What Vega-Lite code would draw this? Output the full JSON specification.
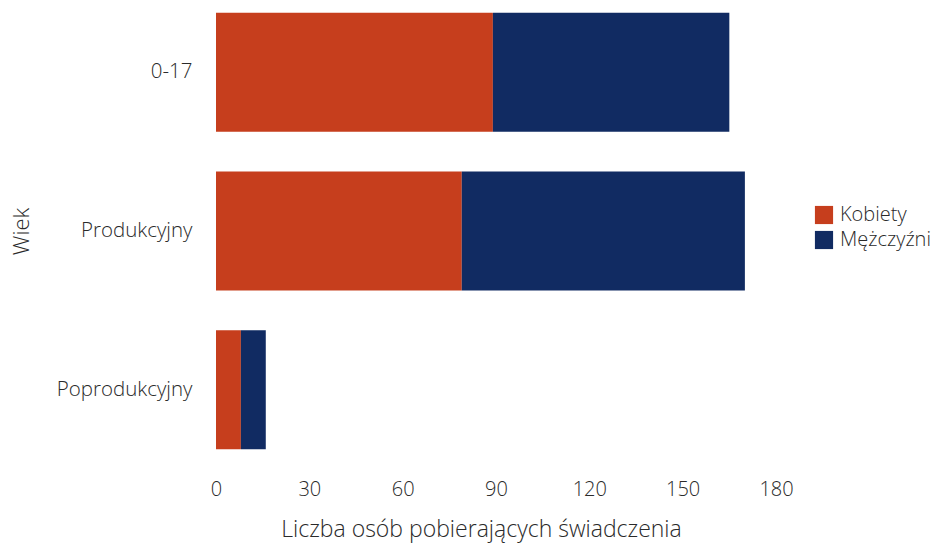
{
  "$schema": "https://vega.github.io/schema/vega-lite/v6.json",
  "autosize": "none",
  "width": 560,
  "height": 462,
  "padding": {"left": 216, "top": 0, "right": 168, "bottom": 82},
  "background": "white",
  "data": {
    "values": [
      {"wiek": "0-17", "plec": "Kobiety", "liczba": 89, "k": 0},
      {"wiek": "0-17", "plec": "Mężczyźni", "liczba": 76, "k": 1},
      {"wiek": "Produkcyjny", "plec": "Kobiety", "liczba": 79, "k": 0},
      {"wiek": "Produkcyjny", "plec": "Mężczyźni", "liczba": 91, "k": 1},
      {"wiek": "Poprodukcyjny", "plec": "Kobiety", "liczba": 8, "k": 0},
      {"wiek": "Poprodukcyjny", "plec": "Mężczyźni", "liczba": 8, "k": 1}
    ]
  },
  "mark": {"type": "bar"},
  "encoding": {
    "y": {
      "field": "wiek",
      "type": "nominal",
      "sort": ["0-17", "Produkcyjny", "Poprodukcyjny"],
      "scale": {"paddingInner": 0.25, "paddingOuter": 0.08},
      "axis": {
        "title": "Wiek",
        "domain": false,
        "ticks": false,
        "labelPadding": 24,
        "labelFont": "Open Sans",
        "labelFontSize": 20.5,
        "labelFontWeight": 300,
        "labelColor": "#2a2a2a",
        "titleFont": "Open Sans",
        "titleFontSize": 22,
        "titleFontWeight": 300,
        "titleColor": "#2a2a2a",
        "titlePadding": 23
      }
    },
    "x": {
      "field": "liczba",
      "type": "quantitative",
      "stack": "zero",
      "scale": {"domain": [0, 180], "nice": false},
      "axis": {
        "title": "Liczba osób pobierających świadczenia",
        "values": [0, 30, 60, 90, 120, 150, 180],
        "grid": false,
        "domain": false,
        "ticks": false,
        "labelFlush": false,
        "labelOverlap": false,
        "labelPadding": 17,
        "labelFont": "Open Sans",
        "labelFontSize": 20,
        "labelFontWeight": 300,
        "labelColor": "#2a2a2a",
        "titleFont": "Open Sans",
        "titleFontSize": 23,
        "titleFontWeight": 300,
        "titleColor": "#2a2a2a",
        "titlePadding": 19,
        "titleX": 265,
        "titleAlign": "center"
      }
    },
    "color": {
      "field": "plec",
      "type": "nominal",
      "sort": ["Kobiety", "Mężczyźni"],
      "scale": {"domain": ["Kobiety", "Mężczyźni"], "range": ["#c63e1d", "#112b62"]},
      "legend": {
        "title": null,
        "orient": "none",
        "legendX": 598,
        "legendY": 205,
        "symbolType": "square",
        "symbolSize": 330,
        "symbolStrokeWidth": 0,
        "labelFont": "Open Sans",
        "labelFontSize": 20,
        "labelFontWeight": 300,
        "labelColor": "#2a2a2a",
        "rowPadding": 5,
        "labelOffset": 6
      }
    },
    "order": {"field": "k", "type": "quantitative"}
  },
  "config": {"view": {"stroke": null}}
}
